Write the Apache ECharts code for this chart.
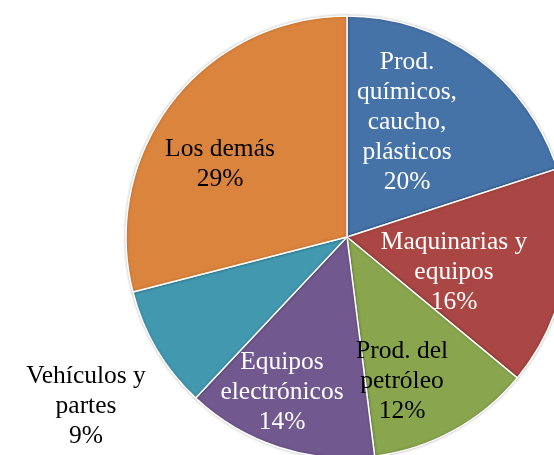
<!DOCTYPE html>
<html>
<head>
<meta charset="utf-8">
<script src="https://cdn.jsdelivr.net/npm/echarts@6/dist/echarts.min.js"></script>
<style>
    html, body { margin: 0; padding: 0; background: #fff; }
    #chart { width: 554px; height: 455px; }
</style>
</head>
<body>
<div id="chart"></div>
<script>
    // datos del gráfico (en sentido horario desde las 12)
    var categories = ['Prod. químicos, caucho, plásticos', 'Maquinarias y equipos', 'Prod. del petróleo',
        'Equipos electrónicos', 'Vehículos y partes', 'Los demás'];
    var labelLines = [
        ['Prod.', 'químicos,', 'caucho,', 'plásticos'],
        ['Maquinarias y', 'equipos'],
        ['Prod. del', 'petróleo'],
        ['Equipos', 'electrónicos'],
        ['Vehículos y', 'partes'],
        ['Los demás']
    ];
    var values = [20, 16, 12, 14, 9, 29];
    var colors = ['#4572A7', '#AA4643', '#89A54E', '#71588F', '#4198AF', '#DB843D'];
    var textColors = ['#fff', '#fff', '#000', '#fff', '#000', '#000'];
    // centro de cada etiqueta
    var labelPos = [[407, 122], [454, 272], [402, 381], [282, 392], [86, 406], [220, 164]];

    var myChart = echarts.init(document.getElementById('chart'));

    var data = [];
    for (var i = 0; i < values.length; i++) {
        data.push({
            name: categories[i],
            value: values[i],
            itemStyle: { color: colors[i] },
            label: { color: textColors[i] }
        });
    }

    var option = {
        animation: false,
        series: [{
            type: 'pie',
            center: [347, 237],
            radius: 221,
            startAngle: 90,
            clockwise: true,
            data: data,
            itemStyle: {
                borderColor: '#fff',
                borderWidth: 1.5,
                shadowBlur: 3,
                shadowColor: 'rgba(0,0,0,0.25)'
            },
            label: {
                show: true,
                position: 'inside',
                fontFamily: 'Liberation Serif',
                fontSize: 25.5,
                lineHeight: 30,
                align: 'center',
                formatter: function(p) {
                    return labelLines[p.dataIndex].join('\n') + '\n' + p.value + '%';
                }
            },
            labelLine: { show: false },
            labelLayout: function(p) {
                var pos = labelPos[p.dataIndex];
                return {
                    x: pos[0],
                    y: pos[1],
                    align: 'center',
                    verticalAlign: 'middle'
                };
            }
        }]
    };

    myChart.setOption(option);
</script>
</body>
</html>
